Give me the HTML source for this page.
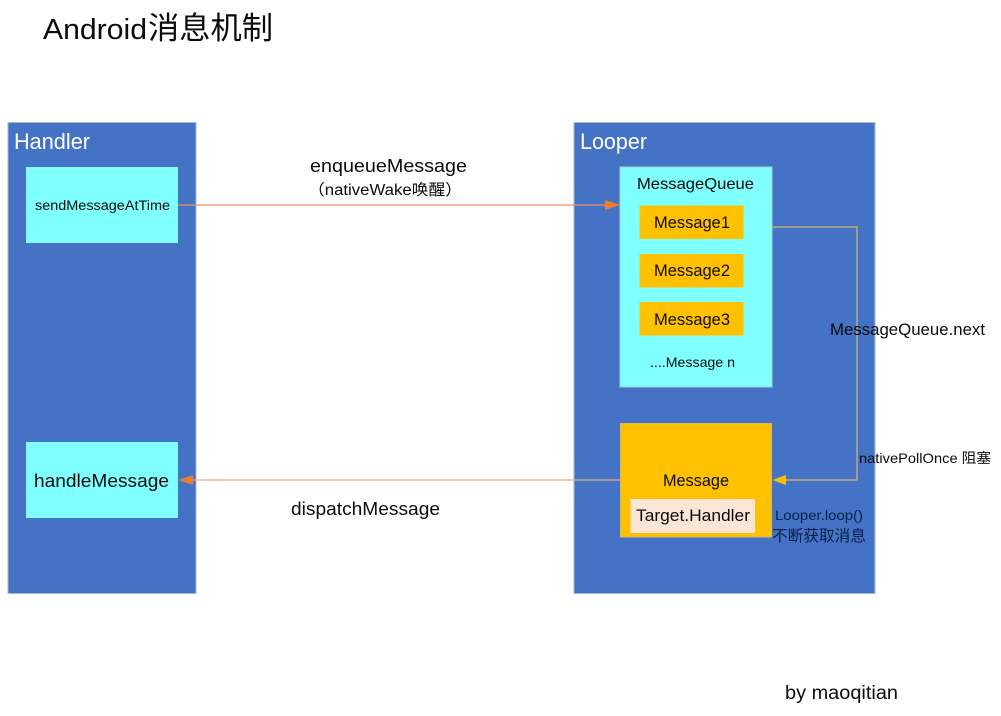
<!DOCTYPE html>
<html>
<head>
<meta charset="utf-8">
<style>
html,body{margin:0;padding:0;background:#fff;width:1001px;height:716px;overflow:hidden}
svg{display:block}
text{font-family:"Liberation Sans","Noto Sans CJK SC",sans-serif;fill:#0b0b0b}
</style>
</head>
<body>
<svg width="1001" height="716" viewBox="0 0 1001 716" xmlns="http://www.w3.org/2000/svg">
<rect width="1001" height="716" fill="#fff"/>
<text x="43" y="39" font-size="29" textLength="104" lengthAdjust="spacingAndGlyphs">Android</text>
<text x="148" y="39" font-size="31" textLength="125" lengthAdjust="spacingAndGlyphs">消息机制</text>

<rect x="8" y="122.500" width="188" height="471" fill="#4472c4" stroke="#a3b8e0" stroke-width="1"/>
<rect x="574" y="122.500" width="301" height="471" fill="#4472c4" stroke="#a3b8e0" stroke-width="1"/>
<text x="14" y="149" font-size="22" style="fill:#fff" textLength="76" lengthAdjust="spacingAndGlyphs">Handler</text>
<text x="580" y="149" font-size="22" style="fill:#fff" textLength="67" lengthAdjust="spacingAndGlyphs">Looper</text>

<rect x="26" y="167" width="152" height="76" fill="#80ffff"/>
<rect x="26" y="442" width="152" height="76" fill="#80ffff"/>
<text x="35" y="210" font-size="13.500" textLength="135" lengthAdjust="spacingAndGlyphs">sendMessageAtTime</text>
<text x="34" y="487" font-size="18" textLength="135" lengthAdjust="spacingAndGlyphs">handleMessage</text>

<rect x="620" y="167" width="152" height="220" fill="#80ffff" stroke="#a8cfd8" stroke-width="1"/>
<text x="637" y="189" font-size="16" textLength="117" lengthAdjust="spacingAndGlyphs">MessageQueue</text>
<rect x="639.500" y="205.500" width="104" height="33.500" fill="#ffc000"/>
<rect x="639.500" y="254" width="104" height="33.500" fill="#ffc000"/>
<rect x="639.500" y="302" width="104" height="33.500" fill="#ffc000"/>
<text x="654" y="228" font-size="16.500" textLength="76" lengthAdjust="spacingAndGlyphs">Message1</text>
<text x="654" y="276" font-size="16.500" textLength="76" lengthAdjust="spacingAndGlyphs">Message2</text>
<text x="654" y="325" font-size="16.500" textLength="76" lengthAdjust="spacingAndGlyphs">Message3</text>
<text x="650" y="367" font-size="14" textLength="85" lengthAdjust="spacingAndGlyphs">....Message n</text>

<rect x="620.500" y="423.500" width="151" height="113.500" fill="#ffc000" stroke="#d8b860" stroke-width="1"/>
<text x="663" y="486" font-size="16.500" textLength="66" lengthAdjust="spacingAndGlyphs">Message</text>
<rect x="630.500" y="499" width="124.500" height="34" fill="#fbe5d6"/>
<text x="636" y="521" font-size="16.500" textLength="114" lengthAdjust="spacingAndGlyphs">Target.Handler</text>

<line x1="178" y1="205" x2="606" y2="205" stroke="#ed9060" stroke-width="1.200"/>
<polygon points="620,205 605,200 605,210" fill="#ed7d31"/>
<line x1="620" y1="480" x2="192" y2="480" stroke="#e8a880" stroke-width="1.200"/>
<polygon points="178,480 193,475 193,485" fill="#ed7d31"/>

<polyline points="772,227 857,227 857,480 786,480" fill="none" stroke="#d8b868" stroke-width="1.200"/>
<polygon points="772.500,480 786,475 786,485" fill="#ffc000"/>

<text x="310" y="172" font-size="18" textLength="157" lengthAdjust="spacingAndGlyphs">enqueueMessage</text>
<text x="308" y="195" font-size="15.500" textLength="154" lengthAdjust="spacingAndGlyphs">（nativeWake唤醒）</text>
<text x="291" y="515" font-size="18" textLength="149" lengthAdjust="spacingAndGlyphs">dispatchMessage</text>
<text x="830" y="335" font-size="16.500" textLength="155" lengthAdjust="spacingAndGlyphs">MessageQueue.next</text>
<text x="859" y="463" font-size="14" textLength="132" lengthAdjust="spacingAndGlyphs">nativePollOnce 阻塞</text>
<text x="775" y="520" font-size="13.500" style="fill:#0a1f4a" textLength="88" lengthAdjust="spacingAndGlyphs">Looper.loop()</text>
<text x="772" y="541" font-size="15.500" style="fill:#0a1f4a" textLength="94" lengthAdjust="spacingAndGlyphs">不断获取消息</text>
<text x="785" y="699" font-size="19" textLength="113" lengthAdjust="spacingAndGlyphs">by maoqitian</text>
</svg>
</body>
</html>
